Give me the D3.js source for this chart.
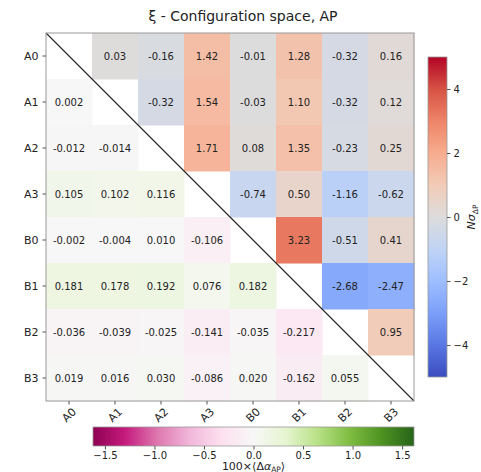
<!DOCTYPE html>
<html>
<head>
<meta charset="utf-8">
<script src="https://cdn.jsdelivr.net/npm/d3@7"></script>
<style>
  body { margin: 0; background: #fff; }
  text { font-family: "DejaVu Sans", sans-serif; }
</style>
</head>
<body>
<div id="chart"></div>
<script>
// labels for rows / columns
var labels = ["A0", "A1", "A2", "A3", "B0", "B1", "B2", "B3"];

// upper triangle: N sigma (row i, columns i+1..7)
var upperRows = [
  [0.03, -0.16, 1.42, -0.01, 1.28, -0.32, 0.16],
  [-0.32, 1.54, -0.03, 1.10, -0.32, 0.12],
  [1.71, 0.08, 1.35, -0.23, 0.25],
  [-0.74, 0.50, -1.16, -0.62],
  [3.23, -0.51, 0.41],
  [-2.68, -2.47],
  [0.95]
];

// lower triangle: 100 x <delta alpha> (row i, columns 0..i-1)
var lowerRows = [
  [],
  [0.002],
  [-0.012, -0.014],
  [0.105, 0.102, 0.116],
  [-0.002, -0.004, 0.010, -0.106],
  [0.181, 0.178, 0.192, 0.076, 0.182],
  [-0.036, -0.039, -0.025, -0.141, -0.035, -0.217],
  [0.019, 0.016, 0.030, -0.086, 0.020, -0.162, 0.055]
];

var rightTicks = [-4, -2, 0, 2, 4];
var bottomTicks = [-1.5, -1.0, -0.5, 0.0, 0.5, 1.0, 1.5];

// colormaps (matplotlib coolwarm, PiYG)
var coolwarmStops = ["#3b4cc0", "#5977e3", "#7b9ff9", "#9ebeff", "#c0d4f5", "#dddcdc",
                     "#f2cbb7", "#f7ac8e", "#ee8468", "#d65244", "#b40426"];
var piygStops = ["#8e0152", "#c51b7d", "#de77ae", "#f1b6da", "#fde0ef", "#f7f7f7",
                 "#e6f5d0", "#b8e186", "#7fbc41", "#4d9221", "#276419"];

var upMax = 5, lowMax = 1.62;
var coolwarm = d3.scaleLinear().domain(d3.range(11).map(function(i) { return -upMax + i * upMax / 5; }))
  .range(coolwarmStops).interpolate(d3.interpolateRgb).clamp(true);
var piyg = d3.scaleLinear().domain(d3.range(11).map(function(i) { return -lowMax + i * lowMax / 5; }))
  .range(piygStops).interpolate(d3.interpolateRgb).clamp(true);

// build cells
var cells = [];
upperRows.forEach(function(row, i) {
  row.forEach(function(v, k) {
    cells.push({r: labels[i], c: labels[i + 1 + k], v: v, up: true});
  });
});
lowerRows.forEach(function(row, i) {
  row.forEach(function(v, k) {
    cells.push({r: labels[i], c: labels[k], v: v, up: false});
  });
});

var W = 481, H = 472;
var svg = d3.select("#chart").append("svg").attr("width", W).attr("height", H);

var mLeft = 46, mTop = 33, size = 368;
var x = d3.scaleBand().domain(labels).range([mLeft, mLeft + size]);
var y = d3.scaleBand().domain(labels).range([mTop, mTop + size]);

// title
svg.append("text")
  .attr("x", 243).attr("y", 21)
  .attr("text-anchor", "middle")
  .style("font-size", "14px")
  .attr("fill", "#222")
  .text("\u03BE - Configuration space, AP");

// cells
svg.selectAll("rect.cell")
  .data(cells)
  .enter().append("rect")
  .attr("class", "cell")
  .attr("x", function(d) { return x(d.c); })
  .attr("y", function(d) { return y(d.r); })
  .attr("width", x.bandwidth() + 0.5)
  .attr("height", y.bandwidth() + 0.5)
  .attr("fill", function(d) { return d.up ? coolwarm(d.v) : piyg(d.v); });

svg.selectAll("text.val")
  .data(cells)
  .enter().append("text")
  .attr("class", "val")
  .attr("x", function(d) { return x(d.c) + x.bandwidth() / 2; })
  .attr("y", function(d) { return y(d.r) + y.bandwidth() / 2; })
  .attr("dy", "0.35em")
  .attr("text-anchor", "middle")
  .style("font-size", "10px")
  .attr("fill", "#222")
  .text(function(d) { return d.up ? d.v.toFixed(2) : d.v.toFixed(3); });

// diagonal
svg.append("line")
  .attr("x1", mLeft).attr("y1", mTop)
  .attr("x2", mLeft + size).attr("y2", mTop + size)
  .attr("stroke", "#222").attr("stroke-width", 1.1);

// frame
svg.append("rect")
  .attr("x", mLeft).attr("y", mTop).attr("width", size).attr("height", size)
  .attr("fill", "none").attr("stroke", "#999").attr("stroke-width", 1);

// axes
var yAx = svg.append("g").attr("transform", "translate(" + mLeft + ",0)")
  .call(d3.axisLeft(y).tickSize(3.5).tickPadding(4));
yAx.select(".domain").remove();
yAx.selectAll("line").attr("stroke", "#555");
yAx.selectAll("text").style("font-size", "11px").attr("fill", "#222")
  .style("font-family", "DejaVu Sans, sans-serif");

var xAx = svg.append("g").attr("transform", "translate(0," + (mTop + size) + ")")
  .call(d3.axisBottom(x).tickSize(3.5).tickPadding(4));
xAx.select(".domain").remove();
xAx.selectAll("line").attr("stroke", "#555");
xAx.selectAll("text")
  .style("font-size", "11px").attr("fill", "#222")
  .style("font-family", "DejaVu Sans, sans-serif")
  .attr("text-anchor", "middle")
  .attr("dy", "0.35em")
  .attr("y", 14)
  .attr("transform", "rotate(-45,0,14)");

// gradients
var defs = svg.append("defs");
var gv = defs.append("linearGradient").attr("id", "gUp")
  .attr("x1", "0").attr("y1", "1").attr("x2", "0").attr("y2", "0");
coolwarmStops.forEach(function(c, i) {
  gv.append("stop").attr("offset", (i / 10)).attr("stop-color", c);
});
var gh = defs.append("linearGradient").attr("id", "gLow")
  .attr("x1", "0").attr("y1", "0").attr("x2", "1").attr("y2", "0");
piygStops.forEach(function(c, i) {
  gh.append("stop").attr("offset", (i / 10)).attr("stop-color", c);
});

// right colorbar
var cbX = 428, cbW = 19, cbTop = 57, cbBot = 377;
var cy = d3.scaleLinear().domain([-upMax, upMax]).range([cbBot, cbTop]);
svg.append("rect")
  .attr("x", cbX).attr("y", cbTop).attr("width", cbW).attr("height", cbBot - cbTop)
  .attr("fill", "url(#gUp)").attr("stroke", "#999").attr("stroke-width", 0.8);
var rAx = svg.append("g").attr("transform", "translate(" + (cbX + cbW) + ",0)")
  .call(d3.axisRight(cy).tickValues(rightTicks).tickSize(3.5).tickPadding(3)
    .tickFormat(function(d) { return d < 0 ? "\u2212" + Math.abs(d) : d; }));
rAx.select(".domain").remove();
rAx.selectAll("line").attr("stroke", "#555");
rAx.selectAll("text").style("font-size", "10px").attr("fill", "#222")
  .style("font-family", "DejaVu Sans, sans-serif");
var rl = svg.append("text")
  .attr("transform", "translate(475," + ((cbTop + cbBot) / 2) + ") rotate(-90)")
  .attr("text-anchor", "middle")
  .style("font-size", "11px").attr("fill", "#222");
rl.append("tspan").style("font-style", "italic").text("N\u03C3");
rl.append("tspan").attr("dy", 3).style("font-size", "7.5px").text("\u0394P");

// bottom colorbar
var hbL = 93, hbR = 414, hbTop = 427, hbH = 19;
var cx = d3.scaleLinear().domain([-lowMax, lowMax]).range([hbL, hbR]);
svg.append("rect")
  .attr("x", hbL).attr("y", hbTop).attr("width", hbR - hbL).attr("height", hbH)
  .attr("fill", "url(#gLow)").attr("stroke", "#999").attr("stroke-width", 0.8);
var bAx = svg.append("g").attr("transform", "translate(0," + (hbTop + hbH) + ")")
  .call(d3.axisBottom(cx).tickValues(bottomTicks).tickSize(3.5).tickPadding(2)
    .tickFormat(function(d) { return d < 0 ? "\u2212" + Math.abs(d).toFixed(1) : d.toFixed(1); }));
bAx.select(".domain").remove();
bAx.selectAll("line").attr("stroke", "#555");
bAx.selectAll("text").style("font-size", "10px").attr("fill", "#222")
  .style("font-family", "DejaVu Sans, sans-serif");
var bl = svg.append("text")
  .attr("x", (hbL + hbR) / 2).attr("y", 470)
  .attr("text-anchor", "middle")
  .style("font-size", "11px").attr("fill", "#222");
bl.append("tspan").text("100\u00D7\u27E8\u0394");
bl.append("tspan").style("font-style", "italic").text("\u03B1");
bl.append("tspan").attr("dy", 2).style("font-size", "7.5px").text("AP");
bl.append("tspan").attr("dy", -2).text("\u27E9");
</script>
</body>
</html>
